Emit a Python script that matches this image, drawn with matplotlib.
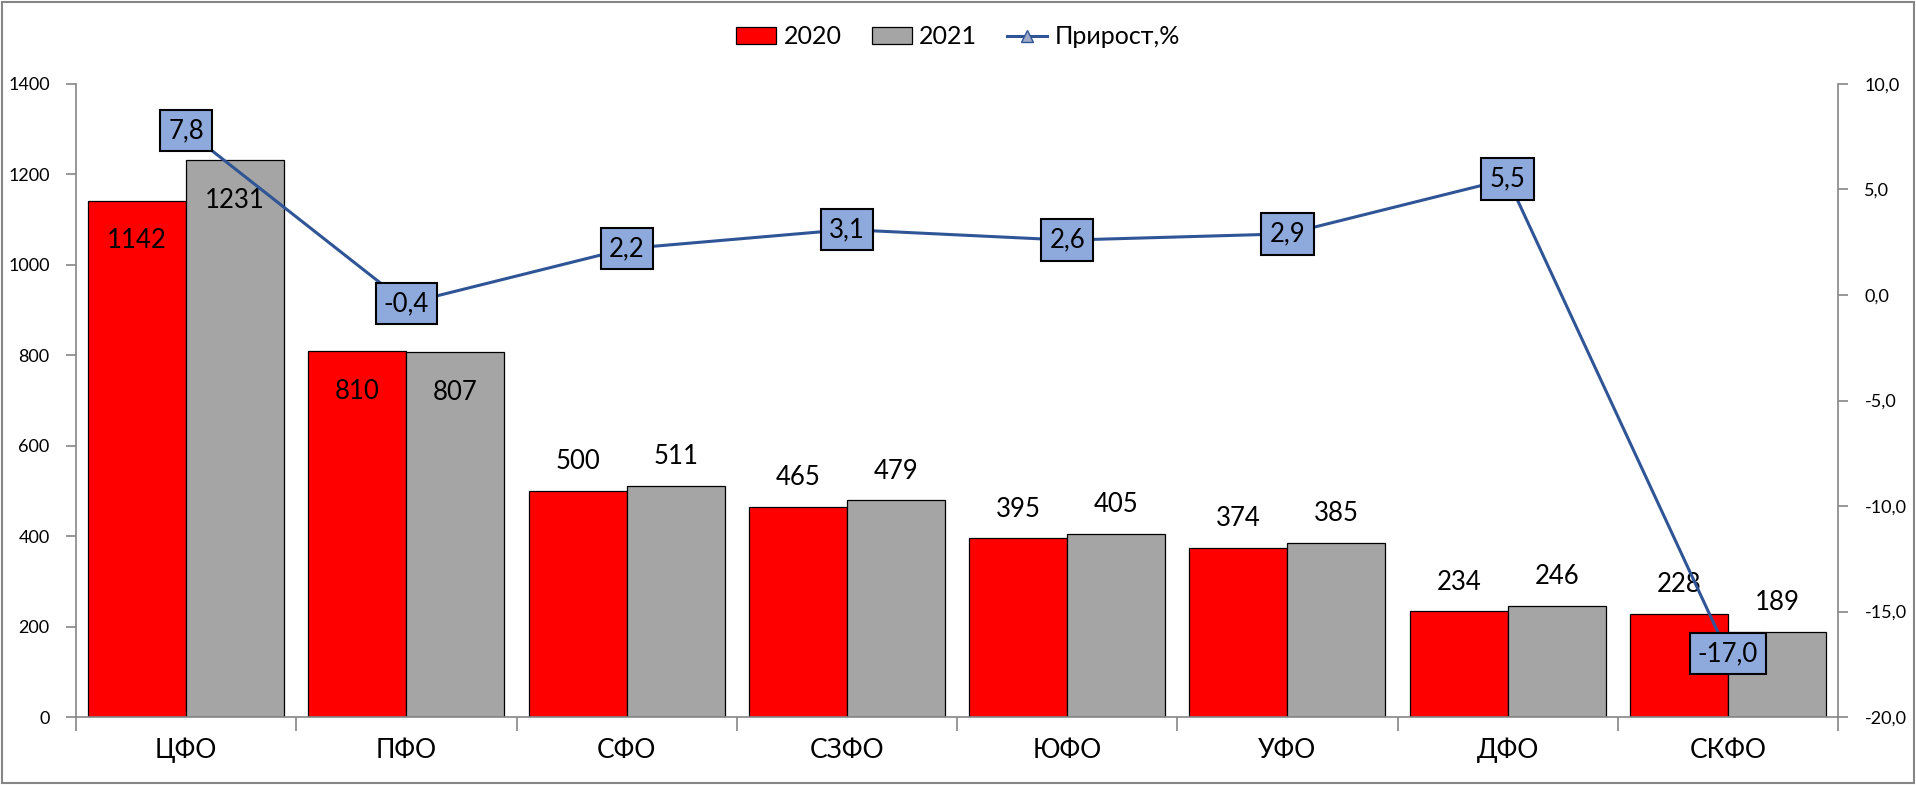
import numpy as np
import matplotlib
matplotlib.use("Agg")
import matplotlib.pyplot as plt
from matplotlib.patches import Rectangle
from matplotlib.ticker import FuncFormatter, MultipleLocator

plt.rcParams['font.family'] = ['Lato', 'Open Sans', 'DejaVu Sans']

# Данные
regions = ["ЦФО", "ПФО", "СФО", "СЗФО", "ЮФО", "УФО", "ДФО", "СКФО"]
v2020 = [1142, 810, 500, 465, 395, 374, 234, 228]
v2021 = [1231, 807, 511, 479, 405, 385, 246, 189]
growth = [7.8, -0.4, 2.2, 3.1, 2.6, 2.9, 5.5, -17.0]
inside_labels = ["ЦФО", "ПФО"]  # подписи внутри столбцов

c_red = "#FF0000"
c_gray = "#A5A5A5"
c_line = "#2F5597"
c_box = "#8EA9DB"
c_axis = "#868686"

fig = plt.figure(figsize=(19.16, 7.85), dpi=100)
ax = fig.add_axes([0.0397, 0.0866, 0.9196, 0.8064])
ax2 = ax.twinx()

x = np.arange(len(regions))
w = 0.445
b1 = ax.bar(x - w / 2, v2020, w, color=c_red, edgecolor="black", linewidth=0.9, label="2020", zorder=2)
b2 = ax.bar(x + w / 2, v2021, w, color=c_gray, edgecolor="black", linewidth=0.9, label="2021", zorder=2)

# подписи столбцов
for bars, vals in ((b1, v2020), (b2, v2021)):
    for rect, val, reg in zip(bars, vals, regions):
        cx = rect.get_x() + rect.get_width() / 2
        dy = -29 if reg in inside_labels else 21
        ax.annotate(str(val), (cx, val), xytext=(0, dy), textcoords="offset points",
                    ha="center", va="center", fontsize=18.5, color="black", zorder=5)

ax.set_xlim(-0.5, len(regions) - 0.5)
ax.set_ylim(0, 1400)
ax.yaxis.set_major_locator(MultipleLocator(200))

# линия прироста
ln, = ax2.plot(x, growth, color=c_line, linewidth=2.2, marker="^", markersize=8,
               markerfacecolor="#A0AAC8", markeredgecolor=c_line, label="Прирост,%", zorder=3)
for xi, g in zip(x, growth):
    ax2.annotate(f"{g:.1f}".replace(".", ","), (xi, g), ha="center", va="center", fontsize=18.5,
                 bbox=dict(boxstyle="square,pad=0.32", facecolor=c_box, edgecolor="black", linewidth=1.5),
                 zorder=6)
ax2.set_ylim(-20, 10)
ax2.yaxis.set_major_locator(MultipleLocator(5))
ax2.yaxis.set_major_formatter(FuncFormatter(lambda v, p: f"{v:.1f}".replace(".", ",")))

ax.set_zorder(ax2.get_zorder() - 1)
ax.patch.set_visible(False)

# оси
for a in (ax, ax2):
    a.spines["top"].set_visible(False)
    for s in ("left", "right", "bottom"):
        a.spines[s].set_color(c_axis)
        a.spines[s].set_linewidth(1.2)
ax.spines["right"].set_visible(False)
ax2.spines["left"].set_visible(False)
ax2.spines["bottom"].set_visible(False)

ax.tick_params(axis="y", length=7, color=c_axis, width=1.2, labelsize=13, pad=12)
ax2.tick_params(axis="y", length=7, color=c_axis, width=1.2, labelsize=13, pad=12)

ax.set_xticks(x)
ax.set_xticklabels(regions, fontsize=19)
ax.tick_params(axis="x", which="major", length=0, pad=15)
ax.set_xticks(np.arange(len(regions) + 1) - 0.5, minor=True)
ax.tick_params(axis="x", which="minor", length=10, color=c_axis, width=1.2)

# легенда
handles = [b1, b2, ln]
fig.legend(handles, ["2020", "2021", "Прирост,%"], loc="center", bbox_to_anchor=(0.5, 0.953),
           ncol=3, frameon=False, fontsize=18, handlelength=1.6, handleheight=0.7,
           columnspacing=1.2, handletextpad=0.3)

# рамка вокруг рисунка
fig.patches.append(Rectangle((0.001, 0.002), 0.998, 0.996, transform=fig.transFigure,
                             fill=False, edgecolor=c_axis, linewidth=1.5))

fig.savefig("out.png", dpi=100, facecolor="white")
